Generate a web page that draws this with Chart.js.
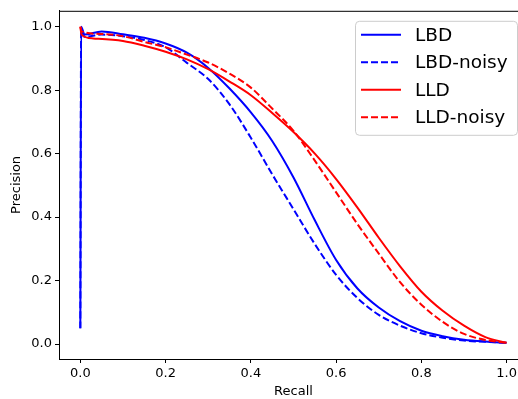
<!DOCTYPE html>
<html>
<head>
<meta charset="utf-8">
<script src="https://cdn.jsdelivr.net/npm/chart.js@4"></script>
<style>
  html, body { margin:0; padding:0; background:#fff; overflow:hidden; }
  canvas { display:block; }
</style>
</head>
<body>
<canvas id="chartPR" width="540" height="399"></canvas>
<script>
/* ================= Dados ================= */
const xTicks = [0, 0.2, 0.4, 0.6, 0.8, 1.0];
const yTicks = [0, 0.2, 0.4, 0.6, 0.8, 1.0];

const seriesNames = ['LBD', 'LBD-noisy', 'LLD', 'LLD-noisy'];

const lbdRecall    = [0, 0.002, 0.01, 0.05, 0.1, 0.15, 0.2, 0.25, 0.3, 0.35, 0.4, 0.45, 0.5, 0.55, 0.6, 0.65, 0.7, 0.75, 0.8, 0.85, 0.9, 0.95, 1.0];
const lbdPrecision = [0.05, 1.0, 0.975, 0.985, 0.976, 0.965, 0.947, 0.918, 0.87, 0.805, 0.73, 0.64, 0.525, 0.39, 0.265, 0.175, 0.115, 0.072, 0.042, 0.025, 0.014, 0.008, 0.004];

const lbdNoisyRecall    = [0, 0.002, 0.01, 0.05, 0.1, 0.15, 0.2, 0.25, 0.3, 0.35, 0.4, 0.45, 0.5, 0.55, 0.6, 0.65, 0.7, 0.75, 0.8, 0.85, 0.9, 0.95, 1.0];
const lbdNoisyPrecision = [0.05, 0.99, 0.968, 0.975, 0.97, 0.958, 0.935, 0.886, 0.835, 0.755, 0.65, 0.535, 0.425, 0.315, 0.218, 0.145, 0.092, 0.058, 0.034, 0.02, 0.011, 0.007, 0.004];

const lldRecall    = [0, 0.003, 0.03, 0.1, 0.15, 0.2, 0.25, 0.3, 0.35, 0.4, 0.45, 0.5, 0.55, 0.6, 0.65, 0.7, 0.75, 0.8, 0.85, 0.9, 0.95, 1.0];
const lldPrecision = [1.0, 0.975, 0.963, 0.955, 0.94, 0.921, 0.897, 0.866, 0.827, 0.784, 0.728, 0.668, 0.6, 0.52, 0.43, 0.335, 0.245, 0.165, 0.105, 0.058, 0.022, 0.004];

const lldNoisyRecall    = [0, 0.003, 0.05, 0.1, 0.15, 0.2, 0.25, 0.3, 0.35, 0.4, 0.45, 0.5, 0.55, 0.6, 0.65, 0.7, 0.75, 0.8, 0.85, 0.9, 0.95, 1.0];
const lldNoisyPrecision = [1.0, 0.985, 0.977, 0.97, 0.952, 0.935, 0.912, 0.887, 0.852, 0.808, 0.742, 0.672, 0.578, 0.478, 0.378, 0.285, 0.195, 0.124, 0.07, 0.032, 0.013, 0.004];

/* ================= Helpers ================= */
function pares(xs, ys){ return xs.map((x, i) => ({ x, y: ys[i] })); }
function qs(id){ return document.getElementById(id); }

Chart.defaults.font.family = "'DejaVu Sans', sans-serif";
Chart.defaults.color = '#000';

const AZUL = '#0000ff', VERMELHO = '#ff0000';
const TRACO = [7, 3];

function ds(i, dados, cor, tracejado){
  return {
    label: seriesNames[i],
    data: dados,
    borderColor: cor,
    backgroundColor: cor,
    borderWidth: 2,
    borderDash: tracejado ? TRACO : [],
    showLine: true,
    pointRadius: 0,
    cubicInterpolationMode: 'monotone',
    order: 3 - i
  };
}

// moldura + legenda dentro da área do gráfico (estilo matplotlib)
const molduraLegenda = {
  id: 'molduraLegenda',
  afterDraw(chart){
    const { ctx, chartArea: a } = chart;
    ctx.save();
    ctx.strokeStyle = '#000'; ctx.lineWidth = 1;
    ctx.strokeRect(a.left + 0.5, a.top + 0.5, a.right - a.left, a.bottom - a.top);

    const w = 162, h = 114;
    const x0 = a.right - 11 - w, y0 = a.top + 10;
    ctx.beginPath();
    ctx.roundRect(x0 + 0.5, y0 + 0.5, w, h, 4);
    ctx.fillStyle = 'rgba(255,255,255,0.8)'; ctx.fill();
    ctx.strokeStyle = '#cccccc'; ctx.stroke();

    ctx.font = "18.5px 'DejaVu Sans'";
    ctx.textBaseline = 'middle';
    chart.data.datasets.forEach((d, i) => {
      const y = y0 + 14 + i * 27.5;
      ctx.beginPath();
      ctx.setLineDash(d.borderDash);
      ctx.strokeStyle = d.borderColor; ctx.lineWidth = d.borderWidth;
      ctx.moveTo(x0 + 6, y); ctx.lineTo(x0 + 46, y); ctx.stroke();
      ctx.setLineDash([]);
      ctx.fillStyle = '#000';
      ctx.fillText(d.label, x0 + 60, y + 1);
    });
    ctx.restore();
  }
};

/* ================= Gráfico ================= */
new Chart(qs('chartPR'), {
  type: 'scatter',
  data: {
    datasets: [
      ds(0, pares(lbdRecall, lbdPrecision), AZUL, false),
      ds(1, pares(lbdNoisyRecall, lbdNoisyPrecision), AZUL, true),
      ds(2, pares(lldRecall, lldPrecision), VERMELHO, false),
      ds(3, pares(lldNoisyRecall, lldNoisyPrecision), VERMELHO, true)
    ]
  },
  options: {
    responsive: false,
    animation: false,
    layout: { padding: { top: 9, right: 12, left: 0, bottom: 0 } },
    plugins: { legend: { display: false }, tooltip: { enabled: false } },
    scales: {
      x: {
        type: 'linear', min: -0.05, max: 1.05,
        afterBuildTicks: s => { s.ticks = xTicks.map(v => ({ value: v })); },
        afterFit: s => { s.height = 40; },
        grid: { drawOnChartArea: false, tickLength: 4, color: '#000' },
        border: { color: '#000' },
        ticks: { font: { size: 13 }, padding: 3, maxRotation: 0, callback: v => v.toFixed(1) },
        title: { display: true, text: 'Recall', font: { size: 13 }, padding: { top: 0, bottom: 0 } }
      },
      y: {
        type: 'linear', min: -0.047, max: 1.05,
        afterBuildTicks: s => { s.ticks = yTicks.map(v => ({ value: v })); },
        afterFit: s => { s.width = 59; },
        grid: { drawOnChartArea: false, tickLength: 4, color: '#000' },
        border: { color: '#000' },
        ticks: { font: { size: 13 }, padding: 3, callback: v => v.toFixed(1) },
        title: { display: true, text: 'Precision', font: { size: 13 }, padding: { top: 9, bottom: 4 } }
      }
    }
  },
  plugins: [molduraLegenda]
});
</script>
</body>
</html>
